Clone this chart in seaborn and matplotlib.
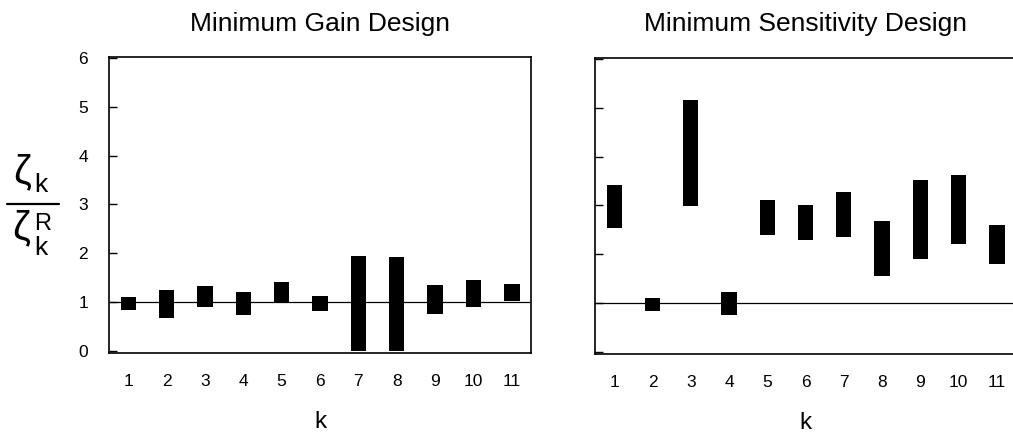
import numpy as np
import pandas as pd
import matplotlib
matplotlib.use("Agg")
import matplotlib.pyplot as plt
from matplotlib.lines import Line2D
import seaborn as sns

# Mode index
k = [1, 2, 3, 4, 5, 6, 7, 8, 9, 10, 11]

# Ranges of zeta_k / zeta_k^R (low, high) for each design
gain_low = [0.84, 0.67, 0.90, 0.73, 1.01, 0.83, 0.00, 0.00, 0.76, 0.91, 1.02]
gain_high = [1.10, 1.25, 1.34, 1.21, 1.41, 1.13, 1.94, 1.92, 1.35, 1.45, 1.37]

sens_low = [2.54, 0.83, 2.98, 0.76, 2.39, 2.29, 2.35, 1.56, 1.91, 2.20, 1.81]
sens_high = [3.41, 1.10, 5.16, 1.22, 3.12, 3.01, 3.28, 2.67, 3.52, 3.62, 2.60]

y_ticks = [0, 1, 2, 3, 4, 5, 6]
titles = ["Minimum Gain Design", "Minimum Sensitivity Design"]

sns.set_style("ticks")
plt.rcParams["font.family"] = ["Liberation Sans", "DejaVu Sans"]
for key in ["text.color", "axes.labelcolor", "xtick.color", "ytick.color",
            "axes.edgecolor"]:
    plt.rcParams[key] = "black"

W, H = 1013, 438
fig = plt.figure(figsize=(W / 100, H / 100), dpi=100)
ax_l = fig.add_axes([0.1076, 0.194, 0.4166, 0.676])
ax_r = fig.add_axes([0.5874, 0.192, 0.4156, 0.676])

panels = [(ax_l, gain_low, gain_high, titles[0], True),
          (ax_r, sens_low, sens_high, titles[1], False)]

for ax, lo, hi, title, show_ylabels in panels:
    df = pd.DataFrame({"k": k, "lo": lo, "span": np.array(hi) - np.array(lo)})
    ax.axhline(1.0, color="black", lw=0.9, zorder=1)
    sns.barplot(data=df, x="k", y="span", bottom=df["lo"], native_scale=True,
                width=0.4, color="black", errorbar=None, saturation=1,
                linewidth=0, ax=ax, zorder=2)
    ax.set_xlim(0.5, 11.5)
    ax.set_ylim(-0.04, 6.02)
    ax.set_xticks(k)
    ax.set_xticklabels([str(v) for v in k])
    ax.set_yticks(y_ticks)
    ax.tick_params(axis="x", length=0, pad=15, labelsize=12.5)
    ax.tick_params(axis="y", direction="in", length=6, width=1.0, pad=15,
                   labelsize=12.5, labelleft=show_ylabels)
    for sp in ax.spines.values():
        sp.set_visible(True)
        sp.set_linewidth(1.2)
        sp.set_color("black")
    ax.set_xlabel("k", fontsize=17.5, labelpad=16)
    ax.set_ylabel("")
    ax.set_title(title, fontsize=19, pad=19)


# y-axis label: zeta_k over zeta_k^R, built from text pieces in pixel units
def put(x, y, s, size):
    fig.text(x / W, 1 - y / H, s, fontsize=size, ha="left", va="baseline")


put(13, 183, "\u03b6", 29)
put(34, 192, "k", 19)
fig.add_artist(Line2D([7 / W, 59 / W], [1 - 204 / H, 1 - 204 / H],
                      transform=fig.transFigure, color="black", lw=1.6))
put(12, 239, "\u03b6", 29)
put(34, 230, "R", 17)
put(34, 255, "k", 19)

fig.savefig("out.png", dpi=100, facecolor="white")
